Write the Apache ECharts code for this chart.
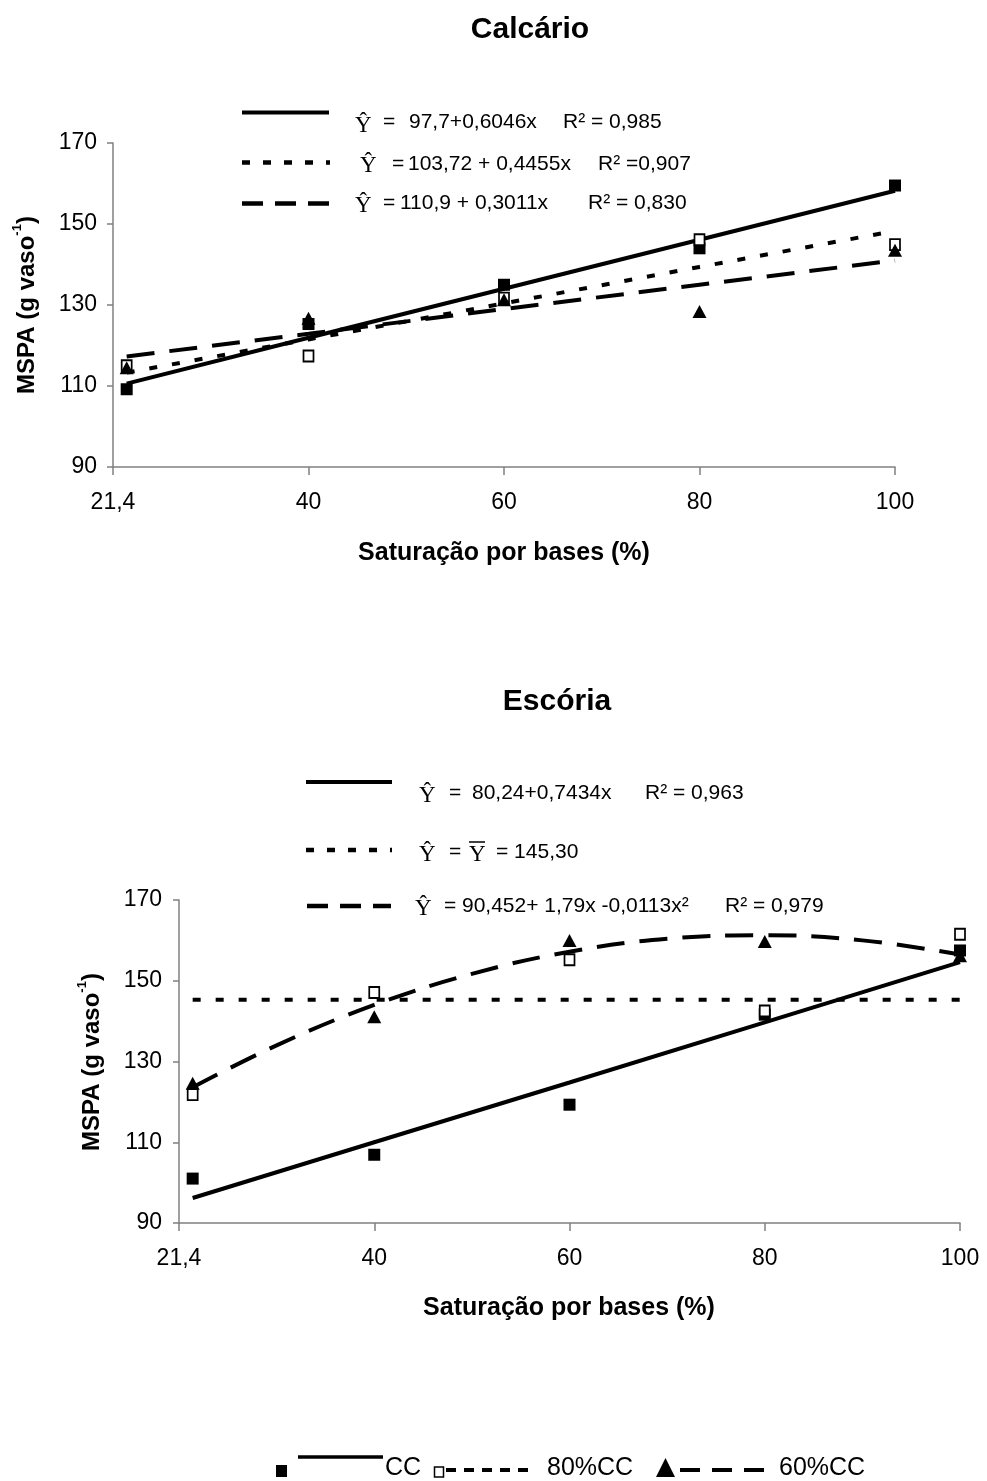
<!DOCTYPE html>
<html><head><meta charset="utf-8">
<script src="https://cdn.jsdelivr.net/npm/echarts@6/dist/echarts.min.js"></script>
<style>html,body{margin:0;padding:0;background:#fff}#c{width:987px;height:1481px}</style>
</head><body><div id="c"></div>
<script>
// ---- data ----
const xValues = [21.4, 40, 60, 80, 100];
const tickValues = [20, 40, 60, 80, 100];
const tickLabels = ['21,4', '40', '60', '80', '100'];

// Calcário observed
const calcCC = [109.2, 125.3, 135.0, 144.0, 159.5];
const calc80 = [115.0, 117.4, 131.7, 146.1, 144.9];
const calc60 = [114.5, 126.7, 131.3, 128.4, 143.5];
// Calcário fitted lines (read at each x)
const calcFitCC = [110.6, 121.9, 134.0, 146.1, 158.2];
const calcFit80 = [113.3, 121.5, 130.4, 139.4, 148.3];
const calcFit60 = [117.3, 122.9, 129.0, 135.0, 141.0];

// Escória observed
const escCC = [101.0, 106.9, 119.3, 141.6, 157.5];
const esc80 = [121.8, 147.1, 155.2, 142.5, 161.5];
const esc60 = [124.6, 141.1, 160.0, 159.7, 156.2];
// Escória fitted lines
const escFitCC = [96.2, 110.0, 124.8, 139.7, 154.6];
const escFit80 = [145.3, 145.3, 145.3, 145.3, 145.3];
const escCurveX = [21.4, 30, 40, 50, 60, 70, 80, 90, 100];
const escFit60 = [123.6, 134.0, 144.0, 151.7, 157.2, 160.4, 161.3, 160.0, 156.5];

const yTicks = [90, 110, 130, 150, 170];

// ---- styles ----
const SANS = '"Liberation Sans", Arial, sans-serif';
const EQ = '"Liberation Sans", Arial, sans-serif';
const EQS = 21;
const SERIF = '"Liberation Serif", "DejaVu Serif", serif';
const DOT = [8, 15];
const DASH = [28, 15];

function pairs(xs, ys) { return xs.map((x, i) => [x, ys[i]]); }

function xAxisDef(gi) {
  return {
    type: 'value', gridIndex: gi, min: 20, max: 100, interval: 20,
    axisLine: { show: true, lineStyle: { color: '#808080', width: 1.5 } },
    axisTick: { show: true, length: 8, lineStyle: { color: '#808080', width: 1.5 } },
    splitLine: { show: false },
    axisLabel: {
      margin: 24, fontSize: 23, color: '#000', fontFamily: SANS,
      formatter: v => { const i = tickValues.indexOf(v); return i >= 0 ? tickLabels[i] : ''; }
    }
  };
}
function yAxisDef(gi, margin) {
  return {
    type: 'value', gridIndex: gi, min: yTicks[0], max: yTicks[yTicks.length - 1], interval: 20,
    axisLine: { show: true, lineStyle: { color: '#808080', width: 1.5 } },
    axisTick: { show: true, length: 6, lineStyle: { color: '#808080', width: 1.5 } },
    splitLine: { show: false },
    axisLabel: { margin: margin, fontSize: 23, color: '#000', fontFamily: SANS }
  };
}
function fitLine(gi, xs, ys, dash, smooth) {
  return {
    type: 'line', xAxisIndex: gi, yAxisIndex: gi, data: pairs(xs, ys),
    symbol: 'none', smooth: smooth || false, z: 2,
    lineStyle: { color: '#000', width: 4, type: dash || 'solid', cap: 'butt', opacity: 1 },
    silent: true
  };
}
function pts(gi, ys, kind) {
  const s = { type: 'scatter', xAxisIndex: gi, yAxisIndex: gi, data: pairs(xValues, ys), z: 5, silent: true };
  if (kind === 'cc') { s.symbol = 'rect'; s.symbolSize = 12; s.itemStyle = { color: '#000', opacity: 1 }; }
  else if (kind === 'e80') { s.symbol = 'rect'; s.symbolSize = [10, 11]; s.itemStyle = { color: '#fff', borderColor: '#000', borderWidth: 1.8, opacity: 1 }; s.z = 6; }
  else { s.symbol = 'triangle'; s.symbolSize = [14, 13]; s.itemStyle = { color: '#000', opacity: 1 }; s.z = 7; }
  return s;
}

// ---- graphic helpers ----
function txt(x, y, text, font, size, weight, align, extra) {
  return Object.assign({
    type: 'text', x: x, y: y, silent: true,
    style: { text: text, fontFamily: font, fontSize: size, fontWeight: weight || 'normal', fill: '#000',
      textAlign: align || 'left', textVerticalAlign: 'middle' }
  }, extra || {});
}
function seg(x1, y1, x2, y2, w, dash) {
  return { type: 'line', silent: true, shape: { x1, y1, x2, y2 },
    style: { stroke: '#000', lineWidth: w, lineDash: dash || null, lineCap: 'butt' } };
}
function yhat(x, y) { return txt(x, y, 'Ŷ', SERIF, 23, 'normal', 'left'); }
function yName(cx, cy) {
  return {
    type: 'text', x: cx, y: cy, rotation: Math.PI / 2, silent: true,
    style: {
      text: '{a|MSPA (g vaso}{s|-1}{a|)}',
      textAlign: 'center', textVerticalAlign: 'middle',
      rich: {
        a: { fontFamily: SANS, fontSize: 24, fontWeight: 'bold', fill: '#000', lineHeight: 28, verticalAlign: 'bottom' },
        s: { fontFamily: SANS, fontSize: 13, fontWeight: 'bold', fill: '#000', lineHeight: 28, verticalAlign: 'top' }
      }
    }
  };
}

const graphics = [
  // titles
  txt(530, 30, 'Calcário', SANS, 30, 'bold', 'center'),
  txt(557, 702, 'Escória', SANS, 30, 'bold', 'center'),
  // axis names
  txt(504, 553, 'Saturação por bases (%)', SANS, 25, 'bold', 'center'),
  txt(569, 1308, 'Saturação por bases (%)', SANS, 25, 'bold', 'center'),
  yName(25, 305),
  yName(90, 1062),

  // Calcário equations
  seg(242, 112.5, 329, 112.5, 4),
  yhat(355, 126),
  txt(383, 122.7, '=', EQ, EQS),
  txt(409, 122.7, '97,7+0,6046x', EQ, EQS),
  txt(563, 122.7, 'R² = 0,985', EQ, EQS),

  seg(242, 162.5, 330, 162.5, 4.5, [8, 13]),
  yhat(360, 166),
  txt(392, 164, '=', EQ, EQS),
  txt(408, 164, '103,72 + 0,4455x', EQ, EQS),
  txt(598, 164, 'R² =0,907', EQ, EQS),

  seg(242, 203.5, 330, 203.5, 4.5, [21, 12]),
  yhat(355, 206),
  txt(383, 203.3, '=', EQ, EQS),
  txt(400, 203.3, '110,9 + 0,3011x', EQ, EQS),
  txt(588, 203.3, 'R² = 0,830', EQ, EQS),

  // Escória equations
  seg(306, 782, 392, 782, 4),
  yhat(419, 796),
  txt(449, 793, '=', EQ, EQS),
  txt(472, 793, '80,24+0,7434x', EQ, EQS),
  txt(645, 793, 'R² = 0,963', EQ, EQS),

  seg(306, 850, 392, 850, 4.5, [8, 13]),
  yhat(419, 855),
  txt(449, 852, '=', EQ, EQS),
  txt(469, 855, 'Y', SERIF, 23),
  seg(469, 842, 485, 842, 1.5),
  txt(496, 852, '= 145,30', EQ, EQS),

  seg(307, 906, 391, 906, 4.5, [21, 12]),
  yhat(415, 909),
  txt(444, 906, '=', EQ, EQS),
  txt(462, 906, '90,452+ 1,79x -0,0113x²', EQ, EQS),
  txt(725, 906, 'R² = 0,979', EQ, EQS),

  // bottom legend
  { type: 'rect', silent: true, shape: { x: 276, y: 1465, width: 11, height: 12 }, style: { fill: '#000' } },
  seg(298, 1457, 383, 1457, 3.5),
  txt(385, 1468, 'CC', SANS, 25),
  { type: 'rect', silent: true, shape: { x: 434.5, y: 1467, width: 9, height: 10 }, style: { fill: '#fff', stroke: '#000', lineWidth: 1.5 } },
  seg(446, 1470, 534, 1470, 4, [10, 8]),
  txt(547, 1468, '80%CC', SANS, 25),
  { type: 'polygon', silent: true, shape: { points: [[656, 1477], [675, 1477], [665.5, 1458]] }, style: { fill: '#000' } },
  seg(680, 1470, 764, 1470, 4, [20, 12]),
  txt(779, 1468, '60%CC', SANS, 25)
];

const option = {
  animation: false,
  backgroundColor: '#fff',
  grid: [
    { left: 113, top: 143, width: 782, height: 324 },
    { left: 179, top: 900, width: 781, height: 323 }
  ],
  xAxis: [xAxisDef(0), xAxisDef(1)],
  yAxis: [yAxisDef(0, 16), yAxisDef(1, 17)],
  series: [
    fitLine(0, xValues, calcFitCC, 'solid'),
    fitLine(0, xValues, calcFit80, DOT),
    fitLine(0, xValues, calcFit60, DASH),
    pts(0, calcCC, 'cc'), pts(0, calc80, 'e80'), pts(0, calc60, 'tri'),
    fitLine(1, xValues, escFitCC, 'solid'),
    fitLine(1, xValues, escFit80, DOT),
    fitLine(1, escCurveX, escFit60, DASH, 0.4),
    pts(1, escCC, 'cc'), pts(1, esc80, 'e80'), pts(1, esc60, 'tri')
  ],
  graphic: graphics
};
const chart = echarts.init(document.getElementById('c'), null, { renderer: 'canvas' });
chart.setOption(option);
</script></body></html>
